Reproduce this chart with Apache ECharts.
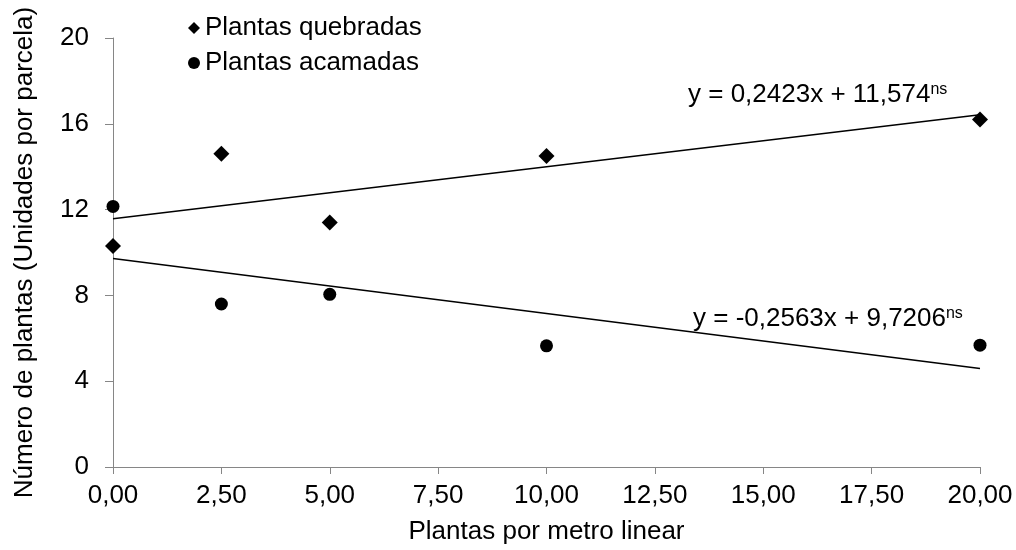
<!DOCTYPE html>
<html>
<head>
<meta charset="utf-8">
<script src="https://cdn.jsdelivr.net/npm/echarts@6/dist/echarts.min.js"></script>
<style>
    html, body { margin: 0; padding: 0; background: #fff; }
    #chart { width: 1016px; height: 550px; }
</style>
</head>
<body>
<div id="chart"></div>
<script>
// plantas por metro linear
const xValues = [0, 2.5, 5, 10, 20];
const quebradas = [10.3, 14.6, 11.4, 14.5, 16.2];
const acamadas = [12.15, 7.6, 8.05, 5.65, 5.68];
// retas de tendencia (extremos)
const trendQuebradas = [[0, 11.574], [20, 16.42]];
const trendAcamadas = [[0, 9.7206], [20, 4.594]];
const xTickLabels = ['0,00', '2,50', '5,00', '7,50', '10,00', '12,50', '15,00', '17,50', '20,00'];
const yTickLabels = ['0', '4', '8', '12', '16', '20'];

const font = 'Liberation Sans, Arial, sans-serif';
const axisColor = '#868686';
const fs = 26;

let myChart = echarts.init(document.getElementById('chart'));
myChart.setOption({
    animation: false,
    textStyle: { fontFamily: font },
    grid: {
        left: 113,
        right: 36,
        top: 38,
        bottom: 81
    },
    legend: {
        orient: 'vertical',
        left: 183,
        top: 10,
        itemWidth: 12,
        itemHeight: 12,
        itemGap: 9,
        textStyle: { fontSize: fs, color: '#000', fontFamily: font, lineHeight: 26 },
        data: [
            { name: 'Plantas quebradas', icon: 'diamond' },
            { name: 'Plantas acamadas', icon: 'circle' }
        ]
    },
    xAxis: {
        type: 'value',
        min: 0,
        max: 20,
        interval: 2.5,
        name: 'Plantas por metro linear',
        nameLocation: 'middle',
        nameGap: 52,
        nameTextStyle: { fontSize: fs, color: '#000' },
        axisLine: { lineStyle: { color: axisColor, width: 1 } },
        axisTick: { show: true, length: 7, lineStyle: { color: axisColor } },
        axisLabel: {
            fontSize: fs,
            color: '#000',
            margin: 16,
            formatter: (v) => xTickLabels[Math.round(v / 2.5)]
        },
        splitLine: { show: false }
    },
    yAxis: {
        type: 'value',
        min: 0,
        max: 20,
        interval: 4,
        name: 'Número de plantas (Unidades por parcela)',
        nameLocation: 'middle',
        nameGap: 75,
        nameTextStyle: { fontSize: fs, color: '#000' },
        axisLine: { show: true, lineStyle: { color: axisColor, width: 1 } },
        axisTick: { show: true, length: 8, lineStyle: { color: axisColor } },
        axisLabel: {
            fontSize: fs,
            color: '#000',
            margin: 24,
            formatter: (v) => yTickLabels[Math.round(v / 4)]
        },
        splitLine: { show: false }
    },
    graphic: [
        {
            type: 'text',
            left: 688,
            top: 82,
            style: {
                text: '{m|y = 0,2423x + 11,574}{s|ns}',
                rich: {
                    m: { fontSize: fs, fontFamily: font, fill: '#000' },
                    s: { fontSize: 16, fontFamily: font, fill: '#000', verticalAlign: 'top' }
                }
            }
        },
        {
            type: 'text',
            left: 693,
            top: 306,
            style: {
                text: '{m|y = -0,2563x + 9,7206}{s|ns}',
                rich: {
                    m: { fontSize: fs, fontFamily: font, fill: '#000' },
                    s: { fontSize: 16, fontFamily: font, fill: '#000', verticalAlign: 'top' }
                }
            }
        }
    ],
    series: [
        {
            name: 'Plantas quebradas',
            type: 'scatter',
            symbol: 'diamond',
            symbolSize: 16,
            clip: false,
            itemStyle: { color: '#000', opacity: 1 },
            data: xValues.map((x, i) => [x, quebradas[i]])
        },
        {
            name: 'Plantas acamadas',
            type: 'scatter',
            symbol: 'circle',
            symbolSize: 13,
            clip: false,
            itemStyle: { color: '#000', opacity: 1 },
            data: xValues.map((x, i) => [x, acamadas[i]])
        },
        {
            name: 'trend1',
            type: 'line',
            showSymbol: false,
            silent: true,
            lineStyle: { color: '#000', width: 1.5 },
            data: trendQuebradas
        },
        {
            name: 'trend2',
            type: 'line',
            showSymbol: false,
            silent: true,
            lineStyle: { color: '#000', width: 1.5 },
            data: trendAcamadas
        }
    ]
});
</script>
</body>
</html>
